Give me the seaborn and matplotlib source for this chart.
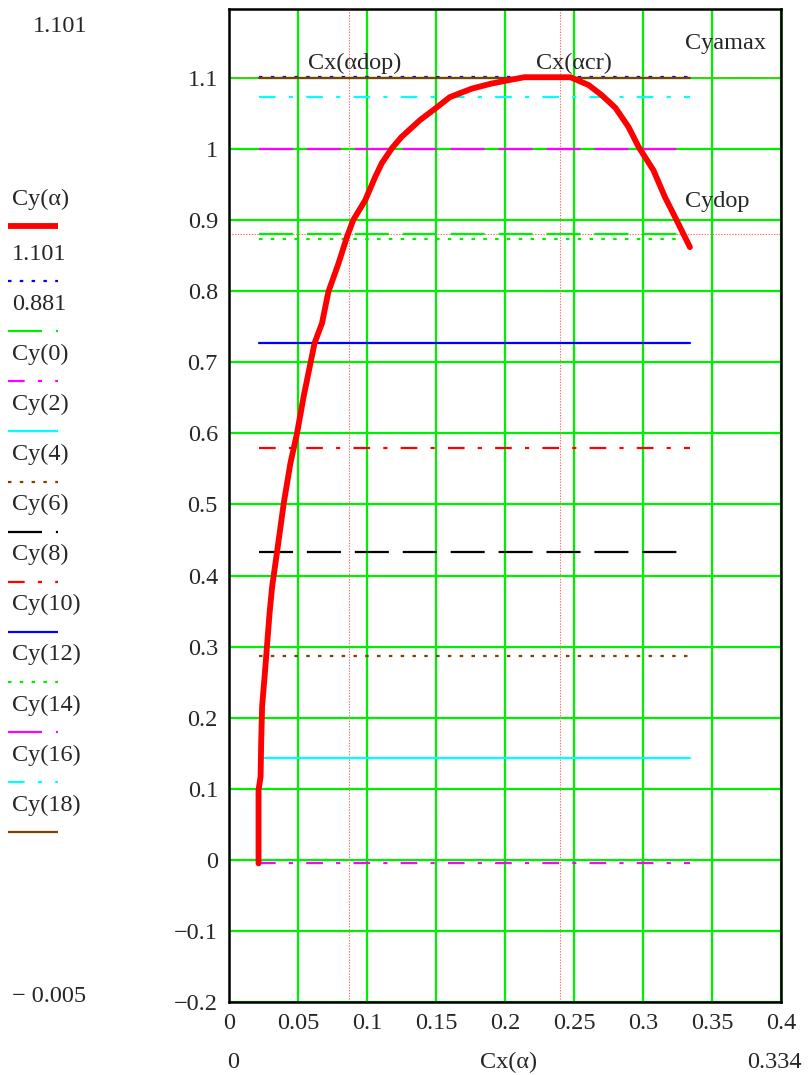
import numpy as np
import pandas as pd
import seaborn as sns
import matplotlib.pyplot as plt
from matplotlib.lines import Line2D
from matplotlib.ticker import MultipleLocator, FuncFormatter

# polar Cy(alpha) vs Cx(alpha)
cx_curve = [0.0214, 0.0214, 0.0229, 0.0233, 0.0240, 0.0258, 0.0277, 0.0294,
            0.0313, 0.0348, 0.0397, 0.0445, 0.0493, 0.0540, 0.0620,
            0.0674, 0.0720, 0.0795, 0.0854, 0.0900, 0.0987, 0.1060, 0.1107,
            0.1180, 0.1250, 0.1386, 0.1495, 0.1600, 0.1760, 0.1900, 0.2030,
            0.2140, 0.2475, 0.2606, 0.2700, 0.2800, 0.2895, 0.2968, 0.3076,
            0.3160, 0.3233, 0.3340]
cy_curve = [-0.005, 0.098, 0.117, 0.164, 0.216, 0.258, 0.305, 0.347,
            0.385, 0.433, 0.502, 0.558, 0.600, 0.651, 0.727,
            0.755, 0.799, 0.840, 0.876, 0.900, 0.928, 0.961, 0.980,
            1.001, 1.017, 1.041, 1.057, 1.073, 1.085, 1.092, 1.097,
            1.101, 1.101, 1.090, 1.076, 1.058, 1.031, 1.003, 0.970,
            0.932, 0.904, 0.862]

# constant traces
level_names = ['1.101', '0.881', 'Cy(0)', 'Cy(2)', 'Cy(4)', 'Cy(6)', 'Cy(8)',
               'Cy(10)', 'Cy(12)', 'Cy(14)', 'Cy(16)', 'Cy(18)']
level_values = [1.101, 0.881, -0.005, 0.143, 0.287, 0.433, 0.580,
                0.727, 0.873, 1.000, 1.073, 1.100]
level_colors = ['#0000ff', '#00ee00', '#ff00ff', '#00ffff', '#804000', '#000000',
                '#ff0000', '#0000ff', '#00ee00', '#ff00ff', '#00ffff', '#804000']

# marker lines
marker_x = [0.087, 0.240]
marker_y = [1.101, 0.881]

DOT = (2.5, 6)
LONGDASH = (24.5, 10)
DASHDOT = (12, 9.5, 3, 9.5)
SOLID = ''
level_dashes = [DOT, LONGDASH, DASHDOT, SOLID] * 3

sns.set_style('white')
plt.rcParams['font.family'] = ['Liberation Serif', 'DejaVu Sans']
plt.rcParams['lines.scale_dashes'] = False
FS = 17.5

fig = plt.figure(figsize=(8.08, 10.75), dpi=100)
ax = fig.add_axes([229 / 808, 1 - 1002 / 1075, 552 / 808, 993 / 1075])

x_lo, x_hi = min(cx_curve), max(cx_curve)
levels = pd.DataFrame({
    'cx': [x_lo, x_hi] * len(level_names),
    'cy': np.repeat(level_values, 2),
    'name': np.repeat(level_names, 2),
})
sns.lineplot(data=levels, x='cx', y='cy', hue='name', style='name',
             hue_order=level_names, style_order=level_names,
             palette=dict(zip(level_names, level_colors)),
             dashes=dict(zip(level_names, level_dashes)),
             linewidth=1.6, legend=False, ax=ax, zorder=3)

for v in marker_x:
    ax.axvline(v, color='#ff7070', lw=0.8, ls=(0, (1, 1)), zorder=2)
for v in marker_y:
    ax.axhline(v, color='#ff7070', lw=0.8, ls=(0, (1, 1)), zorder=2)

curve = pd.DataFrame({'cx': cx_curve, 'cy': cy_curve})
sns.lineplot(data=curve, x='cx', y='cy', sort=False, estimator=None,
             color='#ff0000', linewidth=4.2, ax=ax, zorder=5)

ax.set_xlim(0, 0.4)
ax.set_ylim(-0.2, 1.197)
ax.xaxis.set_major_locator(MultipleLocator(0.05))
ax.yaxis.set_major_locator(MultipleLocator(0.1))
fmt = FuncFormatter(lambda v, p: ('%g' % round(v, 3)).replace('-', '\u2212'))
ax.xaxis.set_major_formatter(fmt)
ax.yaxis.set_major_formatter(fmt)
ax.tick_params(length=0, labelsize=FS)
ax.tick_params(axis='x', pad=8)
ax.tick_params(axis='y', pad=8)
ax.grid(True, color='#00ee00', lw=1.6)
ax.set_axisbelow(True)
for s in ax.spines.values():
    s.set_color('black')
    s.set_linewidth(1.8)
ax.set_xlabel('')
ax.set_ylabel('')

# marker labels
ax.text(0.0913, 1.12, 'Cx(\u03b1dop)', fontsize=FS, ha='center', va='center')
ax.text(0.2500, 1.12, 'Cx(\u03b1cr)', fontsize=FS, ha='center', va='center')
ax.text(0.3304, 1.149, 'Cyamax', fontsize=FS, ha='left', va='center')
ax.text(0.3304, 0.926, 'Cydop', fontsize=FS, ha='left', va='center')

# legend on the left: label above its line sample
W, H = 808, 1075
legend_names = ['Cy(\u03b1)'] + level_names
legend_colors = ['#ff0000'] + level_colors
legend_dashes = [SOLID] + level_dashes
legend_widths = [4.2] + [1.6] * len(level_names)
for i, (name, col, dash, lw) in enumerate(zip(legend_names, legend_colors,
                                               legend_dashes, legend_widths)):
    y_line = 231 + 50.1 * i if i else 226
    fig.text(12 / W, 1 - (y_line - 27) / H, name, fontsize=FS, va='center')
    ls = '-' if dash == '' else (0, dash)
    fig.add_artist(Line2D([8 / W, 58 / W], [1 - y_line / H] * 2,
                          color=col, lw=lw, ls=ls, solid_capstyle='butt'))

# Mathcad range labels
fig.text(33 / W, 1 - 27 / H, '1.101', fontsize=FS, va='center')
fig.text(12 / W, 1 - 996 / H, '\u2212 0.005', fontsize=FS, va='center')
fig.text(227 / W, 1 - 1062 / H, '0', fontsize=FS, va='center')
fig.text(509 / W, 1 - 1062 / H, 'Cx(\u03b1)', fontsize=FS, va='center', ha='center')
fig.text(747 / W, 1 - 1062 / H, '0.334', fontsize=FS, va='center')

fig.savefig('out.png', dpi=100)
